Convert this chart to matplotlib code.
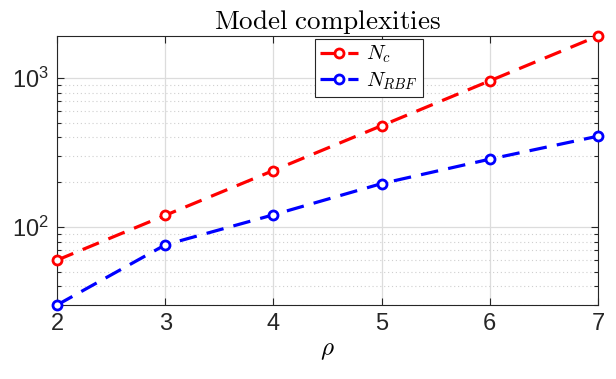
import matplotlib
matplotlib.use("Agg")
import matplotlib.pyplot as plt
from matplotlib.ticker import LogLocator, NullFormatter

rho = [2, 3, 4, 5, 6, 7]
N_c = [60, 120, 240, 480, 960, 1920]
N_rbf = [30, 76, 121, 196, 286, 408]
xticks = [2, 3, 4, 5, 6, 7]

plt.rcParams['font.family'] = ['Liberation Sans', 'DejaVu Sans']
plt.rcParams['mathtext.fontset'] = 'cm'

fig = plt.figure(figsize=(6.16, 3.79), dpi=100)
ax = fig.add_axes([57/616, 1-305/379, (598-57)/616, (305-36)/379])

ax.plot(rho, N_c, color=(1, 0, 0), ls=(0, (5.5, 3.2)), lw=2.3, marker='o',
        markersize=6.5, markerfacecolor='white', markeredgewidth=2,
        label=r'$N_c$', clip_on=False, zorder=5)
ax.plot(rho, N_rbf, color=(0, 0, 1), ls=(0, (5.5, 3.2)), lw=2.3, marker='o',
        markersize=6.5, markerfacecolor='white', markeredgewidth=2,
        label=r'$N_{RBF}$', clip_on=False, zorder=5)

ax.set_yscale('log')
ax.set_xlim(2, 7)
ax.set_ylim(30, 1920)
ax.set_xticks(xticks)
ax.yaxis.set_major_locator(LogLocator(base=10, numticks=10))
ax.yaxis.set_minor_locator(LogLocator(base=10, subs=range(2, 10), numticks=20))
ax.yaxis.set_minor_formatter(NullFormatter())

ax.grid(True, which='major', color='#dcdcdc', lw=0.9, ls='-')
ax.grid(True, which='minor', axis='y', color='#cfcfcf', lw=0.8, ls=(0, (1, 2.5)))
ax.set_axisbelow(True)

ax.tick_params(which='both', direction='in', top=True, right=True,
               labelsize=17, colors='#262626', width=0.8)
ax.tick_params(which='major', length=5, pad=6)
ax.tick_params(which='minor', length=3)
for s in ax.spines.values():
    s.set_color('#262626')
    s.set_linewidth(0.8)

ax.set_title(r'$\mathrm{Model\ complexities}$', fontsize=19.5, pad=4)
ax.set_xlabel(r'$\rho$', fontsize=18, labelpad=2)

leg = ax.legend(loc='upper center', bbox_to_anchor=(0.577, 0.99), fontsize=15,
                fancybox=False, edgecolor='#262626', framealpha=1,
                handlelength=1.8, borderpad=0.25, labelspacing=0.25,
                handletextpad=0.4, borderaxespad=0)
leg.get_frame().set_linewidth(0.8)
leg.set_zorder(10)

fig.savefig('out.png', dpi=100)
